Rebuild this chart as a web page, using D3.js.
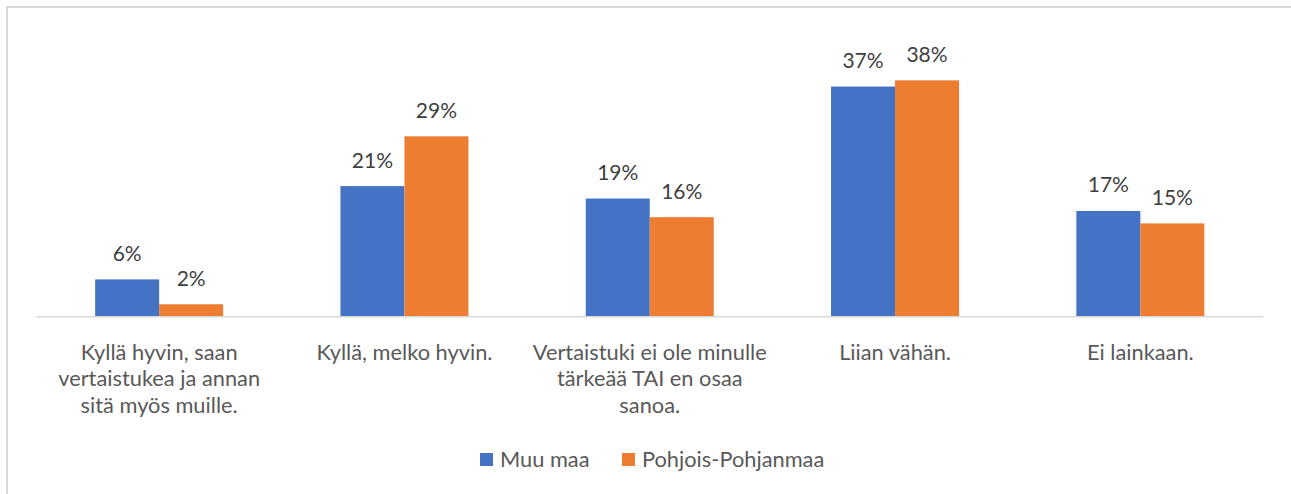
<!DOCTYPE html>
<html>
<head>
<meta charset="utf-8">
<script src="https://cdn.jsdelivr.net/npm/d3@7"></script>
<style>
  html, body { margin: 0; padding: 0; background: #fff; }
  svg { display: block; }
</style>
</head>
<body>
<svg id="chart" width="1291" height="494"></svg>
<script>
// Vertaistuen saaminen: Muu maa vs. Pohjois-Pohjanmaa
// Category labels carry their line breaks as "\n".
const categories = [
  "Kyllä hyvin, saan\nvertaistukea ja annan\nsitä myös muille.",
  "Kyllä, melko hyvin.",
  "Vertaistuki ei ole minulle\ntärkeää TAI en osaa\nsanoa.",
  "Liian vähän.",
  "Ei lainkaan."
];
const seriesNames = ["Muu maa", "Pohjois-Pohjanmaa"];
const muuMaa = [0.06, 0.21, 0.19, 0.37, 0.17];
const pohjoisPohjanmaa = [0.02, 0.29, 0.16, 0.38, 0.15];
const seriesValues = [muuMaa, pohjoisPohjanmaa];
const colors = ["#4472c4", "#ed7d31"];

const svg = d3.select("#chart");
const font = "Lato, 'Open Sans', sans-serif";

// outer chart frame
svg.append("rect")
  .attr("x", 7).attr("y", 7)
  .attr("width", 1300).attr("height", 500)
  .attr("fill", "none")
  .attr("stroke", "#d9d9d9")
  .attr("stroke-width", 2);

const plot = { left: 36.5, right: 1263, baseline: 316.7 };

const x0 = d3.scaleBand()
  .domain(categories)
  .range([plot.left, plot.right])
  .paddingInner(0)
  .paddingOuter(0);

const groupWidth = 128;
const x1 = d3.scaleBand()
  .domain(seriesNames)
  .range([0, groupWidth]);

const y = d3.scaleLinear()
  .domain([0, 0.4])
  .range([plot.baseline, plot.baseline - 0.4 * 622]);

const rows = categories.map((c, i) => ({
  cat: c,
  vals: seriesNames.map((s, j) => ({ series: s, idx: j, value: seriesValues[j][i] }))
}));

const groups = svg.append("g").selectAll("g")
  .data(rows)
  .join("g")
  .attr("transform", d => `translate(${x0(d.cat) + x0.bandwidth() / 2 - groupWidth / 2},0)`);

groups.selectAll("rect")
  .data(d => d.vals)
  .join("rect")
  .attr("x", d => x1(d.series))
  .attr("y", d => y(d.value))
  .attr("width", x1.bandwidth())
  .attr("height", d => y(0) - y(d.value))
  .attr("fill", d => colors[d.idx]);

groups.selectAll("text.val")
  .data(d => d.vals)
  .join("text")
  .attr("class", "val")
  .attr("x", d => x1(d.series) + x1.bandwidth() / 2)
  .attr("y", d => y(d.value) - 18.5)
  .attr("text-anchor", "middle")
  .attr("font-family", font)
  .attr("font-size", 21)
  .attr("fill", "#404040")
  .text(d => d3.format(".0%")(d.value));

// category axis
const axis = svg.append("g")
  .attr("transform", `translate(0,${plot.baseline})`)
  .call(d3.axisBottom(x0).tickSize(0).tickPadding(0));
axis.select(".domain").attr("stroke", "#d9d9d9").attr("stroke-width", 1.6)
  .attr("d", `M${plot.left},0H${plot.right}`);

axis.selectAll(".tick text").remove();
axis.selectAll(".tick").each(function (d) {
  const t = d3.select(this).append("text")
    .attr("text-anchor", "middle")
    .attr("font-family", font)
    .attr("font-size", 21.8)
    .attr("fill", "#595959");
  d.split("\n").forEach((l, i) => {
    t.append("tspan").attr("x", 0).attr("y", 43 + i * 26.5).text(l);
  });
});

// legend
const legend = svg.append("g").attr("transform", "translate(0,460)");
const legendItems = [
  { name: seriesNames[0], x: 480 },
  { name: seriesNames[1], x: 622 }
];
legendItems.forEach((it, i) => {
  legend.append("rect")
    .attr("x", it.x).attr("y", -7)
    .attr("width", 13).attr("height", 13)
    .attr("fill", colors[i]);
  legend.append("text")
    .attr("x", it.x + 20).attr("y", 7)
    .attr("font-family", font)
    .attr("font-size", 21.8)
    .attr("fill", "#595959")
    .text(it.name);
});
</script>
</body>
</html>
